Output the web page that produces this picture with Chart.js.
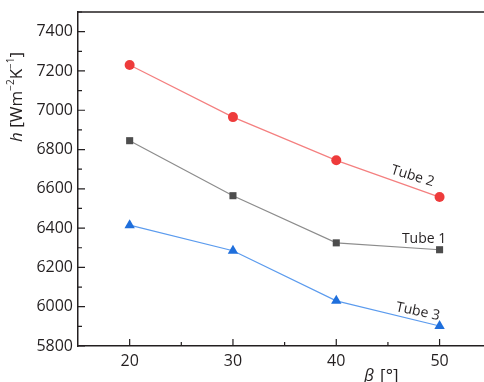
<!DOCTYPE html>
<html>
<head>
<meta charset="utf-8">
<script src="https://cdn.jsdelivr.net/npm/chart.js@4"></script>
<style>
  html, body { margin: 0; padding: 0; background: #fff; }
  #wrap { width: 484px; height: 382px; position: relative; }
</style>
</head>
<body>
<div id="wrap"><canvas id="chart"></canvas></div>
<script>
const betaValues = [20, 30, 40, 50];
const tube1 = [6845, 6565, 6325, 6290];
const tube2 = [7230, 6965, 6745, 6558];
const tube3 = [6415, 6285, 6030, 5902];
const yTickValues = [5800, 6000, 6200, 6400, 6600, 6800, 7000, 7200, 7400];
const xTickValues = [20, 30, 40, 50];

const FONT = "'Open Sans', 'DejaVu Sans', sans-serif";
const INK = '#231f20';

// inward ticks, top frame line, axis titles and curve labels
const decorations = {
  id: 'decorations',
  afterDraw(chart) {
    const ctx = chart.ctx;
    const { left, right, top, bottom } = chart.chartArea;
    const x = chart.scales.x, y = chart.scales.y;
    ctx.save();
    ctx.strokeStyle = INK;
    ctx.lineWidth = 1.5;
    ctx.beginPath();
    ctx.moveTo(left, top);
    ctx.lineTo(right, top);
    ctx.stroke();

    ctx.lineWidth = 1.2;
    ctx.beginPath();
    yTickValues.forEach(v => {
      const p = y.getPixelForValue(v);
      ctx.moveTo(left, p); ctx.lineTo(left + 7, p);
      const m = y.getPixelForValue(v + 100);
      ctx.moveTo(left, m); ctx.lineTo(left + 4, m);
    });
    xTickValues.forEach(v => {
      const p = x.getPixelForValue(v);
      ctx.moveTo(p, bottom); ctx.lineTo(p, bottom - 7);
      const m = x.getPixelForValue(v + 5);
      ctx.moveTo(m, bottom); ctx.lineTo(m, bottom - 4);
    });
    ctx.stroke();

    // x title
    ctx.fillStyle = INK;
    ctx.textBaseline = 'alphabetic';
    ctx.textAlign = 'left';
    ctx.font = 'italic 17px ' + FONT;
    const bx = 364, by = 381;
    ctx.fillText('β', bx, by);
    ctx.font = '17px ' + FONT;
    ctx.fillText(' [°]', bx + ctx.measureText('β').width + 1, by);

    // y title
    ctx.save();
    ctx.translate(22, 142);
    ctx.rotate(-Math.PI / 2);
    let cx = 0;
    const part = (txt, font, dy) => {
      ctx.font = font;
      ctx.fillText(txt, cx, dy);
      cx += ctx.measureText(txt).width;
    };
    part('h', 'italic 17px ' + FONT, 0);
    part(' [Wm', '17px ' + FONT, 0);
    part('−2', '10px ' + FONT, -8);
    part('K', '17px ' + FONT, 0);
    part('−1', '10px ' + FONT, -8);
    part(']', '17px ' + FONT, 0);
    ctx.restore();

    // curve labels
    ctx.font = '14px ' + FONT;
    ctx.textAlign = 'center';
    ctx.textBaseline = 'middle';
    const label = (txt, xv, yv, deg) => {
      ctx.save();
      ctx.translate(x.getPixelForValue(xv), y.getPixelForValue(yv));
      ctx.rotate(deg * Math.PI / 180);
      ctx.fillText(txt, 0, 0);
      ctx.restore();
    };
    label('Tube 2', 47.4, 6665, 17);
    label('Tube 1', 48.5, 6345, 0);
    label('Tube 3', 47.9, 5975, 12);
    ctx.restore();
  }
};

new Chart(document.getElementById('chart'), {
  type: 'line',
  data: {
    datasets: [
      {
        label: 'Tube 1',
        data: betaValues.map((b, i) => ({ x: b, y: tube1[i] })),
        borderColor: '#8c8c8c',
        borderWidth: 1.2,
        pointStyle: 'rect',
        pointRadius: 5,
        pointBackgroundColor: '#4d4d4d',
        pointBorderWidth: 0
      },
      {
        label: 'Tube 2',
        data: betaValues.map((b, i) => ({ x: b, y: tube2[i] })),
        borderColor: '#f47f7f',
        borderWidth: 1.2,
        pointStyle: 'circle',
        pointRadius: 5,
        pointBackgroundColor: '#ee3b3b',
        pointBorderWidth: 0
      },
      {
        label: 'Tube 3',
        data: betaValues.map((b, i) => ({ x: b, y: tube3[i] })),
        borderColor: '#5b9bee',
        borderWidth: 1.2,
        pointStyle: 'triangle',
        pointRadius: 6,
        pointBackgroundColor: '#1f6fdc',
        pointBorderWidth: 0
      }
    ]
  },
  options: {
    responsive: true,
    maintainAspectRatio: false,
    animation: false,
    layout: { autoPadding: false, padding: { top: 12, right: 0, left: 0, bottom: 0 } },
    plugins: {
      legend: { display: false },
      tooltip: { enabled: false }
    },
    scales: {
      x: {
        type: 'linear',
        min: 15,
        max: 54.3,
        afterBuildTicks: s => { s.ticks = xTickValues.map(v => ({ value: v })); },
        afterFit: s => { s.height = 36; s.paddingLeft = 0; s.paddingRight = 0; },
        grid: { display: false, drawTicks: false },
        border: { display: true, color: INK, width: 1.5 },
        ticks: { padding: 6, color: INK, font: { family: FONT, size: 16 }, callback: v => String(v) }
      },
      y: {
        min: 5800,
        max: 7500,
        afterBuildTicks: s => { s.ticks = yTickValues.map(v => ({ value: v })); },
        afterFit: s => { s.width = 78; s.paddingTop = 0; s.paddingBottom = 0; },
        grid: { display: false, drawTicks: false },
        border: { display: true, color: INK, width: 1.5 },
        ticks: { padding: 5, color: INK, font: { family: FONT, size: 16 }, callback: v => String(v) }
      }
    }
  },
  plugins: [decorations]
});
</script>
</body>
</html>
